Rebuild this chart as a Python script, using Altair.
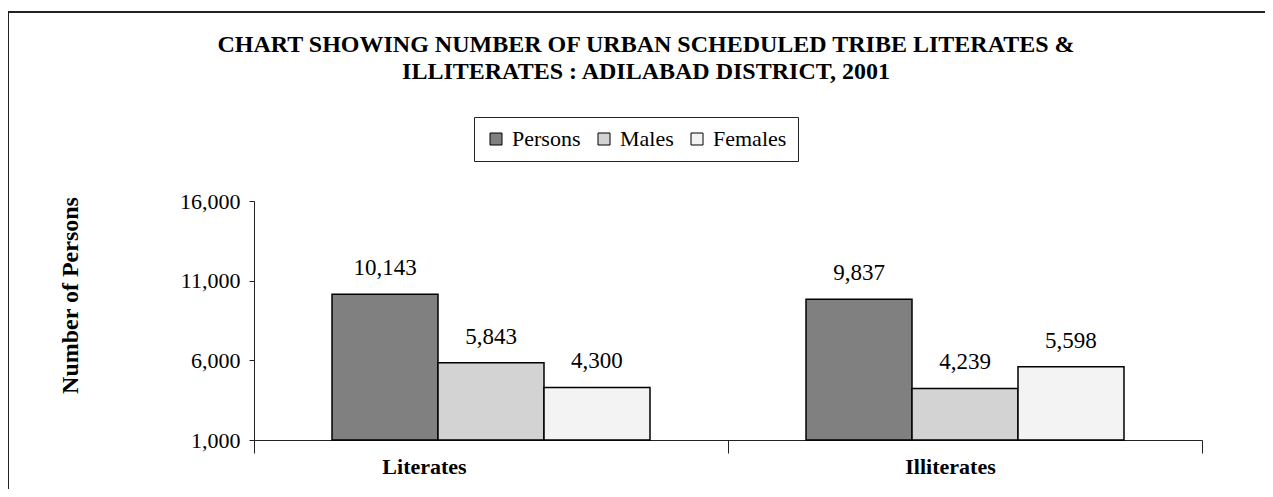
import altair as alt
import pandas as pd

categories = ["Literates", "Illiterates"]
series = ["Persons", "Males", "Females"]
persons = [10143, 9837]
males = [5843, 4239]
females = [4300, 5598]
y_ticks = [1000, 6000, 11000, 16000]
title_lines = ["CHART SHOWING NUMBER OF URBAN SCHEDULED TRIBE LITERATES &",
               "ILLITERATES : ADILABAD DISTRICT, 2001"]

rows = []
for i, c in enumerate(categories):
    for s, vals in zip(series, [persons, males, females]):
        rows.append({"category": c, "series": s, "value": vals[i]})
df = pd.DataFrame(rows)

FONT = "Liberation Serif"

x_enc = alt.X("category:N", sort=categories,
              scale=alt.Scale(paddingInner=0, paddingOuter=0),
              axis=alt.Axis(title=None, labelAngle=0, labelFont=FONT, labelFontSize=22,
                            labelFontWeight="bold", labelColor="black",
                            labelOffset=alt.condition("datum.value == 'Literates'",
                                                      alt.value(-67), alt.value(-15)),
                            tickBand="extent", tickSize=13, tickColor="#222",
                            domainColor="#222", labelPadding=3))
xo_enc = alt.XOffset("series:N", sort=series,
                     scale=alt.Scale(paddingInner=0, paddingOuter=0.736))
y_scale = alt.Scale(domain=[1000, 16000], nice=False, zero=False)

bars = alt.Chart(df).mark_bar(stroke="black", strokeWidth=1.5).encode(
    x=x_enc,
    xOffset=xo_enc,
    y=alt.Y("value:Q", scale=y_scale,
            axis=alt.Axis(values=y_ticks, format=",.0f", grid=False, labelFont=FONT,
                          labelFontSize=22, labelColor="black", tickSize=5,
                          tickColor="#222", domainColor="#222", labelPadding=9,
                          title="Number of Persons", titleFont=FONT, titleFontSize=24,
                          titleFontWeight="bold", titleColor="black", titleAngle=270,
                          titleX=-184, titleY=94, titleAlign="center",
                          titleBaseline="middle")),
    y2=alt.datum(1000),
    color=alt.Color("series:N", sort=series,
                    scale=alt.Scale(domain=series, range=["#808080", "#d3d3d3", "#f3f3f3"]),
                    legend=alt.Legend(title=None, orient="none", legendX=220, legendY=-84,
                                      direction="horizontal", labelFont=FONT,
                                      labelFontSize=22, labelColor="black",
                                      symbolType="square", symbolSize=144,
                                      symbolStrokeColor="black", symbolStrokeWidth=1,
                                      labelOffset=5, columnPadding=12, padding=11,
                                      strokeColor="#222")),
)

labels = alt.Chart(df).mark_text(font=FONT, fontSize=23, color="black",
                                 baseline="alphabetic", dy=-19).encode(
    x=alt.X("category:N", sort=categories),
    xOffset=alt.XOffset("series:N", sort=series),
    y=alt.Y("value:Q", scale=y_scale),
    text=alt.Text("value:Q", format=","),
)

frame = alt.Chart(pd.DataFrame({"a": [0]})).mark_rect(
    fill=None, stroke="#222", strokeWidth=2, clip=False).encode(
    x=alt.value(-246), x2=alt.value(1040), y=alt.value(-189), y2=alt.value(320))

chart = alt.layer(frame, bars, labels).properties(
    width=948, height=239,
    title=alt.TitleParams(text=title_lines, font=FONT, fontSize=24, fontWeight="bold",
                          color="black", anchor="middle", frame="group", dx=-82,
                          lineHeight=27, offset=-73),
    padding={"left": 246, "top": 193, "right": 63, "bottom": 49},
    autosize=alt.AutoSizeParams(type="none"),
).configure_view(stroke=None)

chart.save("out.html", embed_options={"renderer": "svg", "actions": False})
